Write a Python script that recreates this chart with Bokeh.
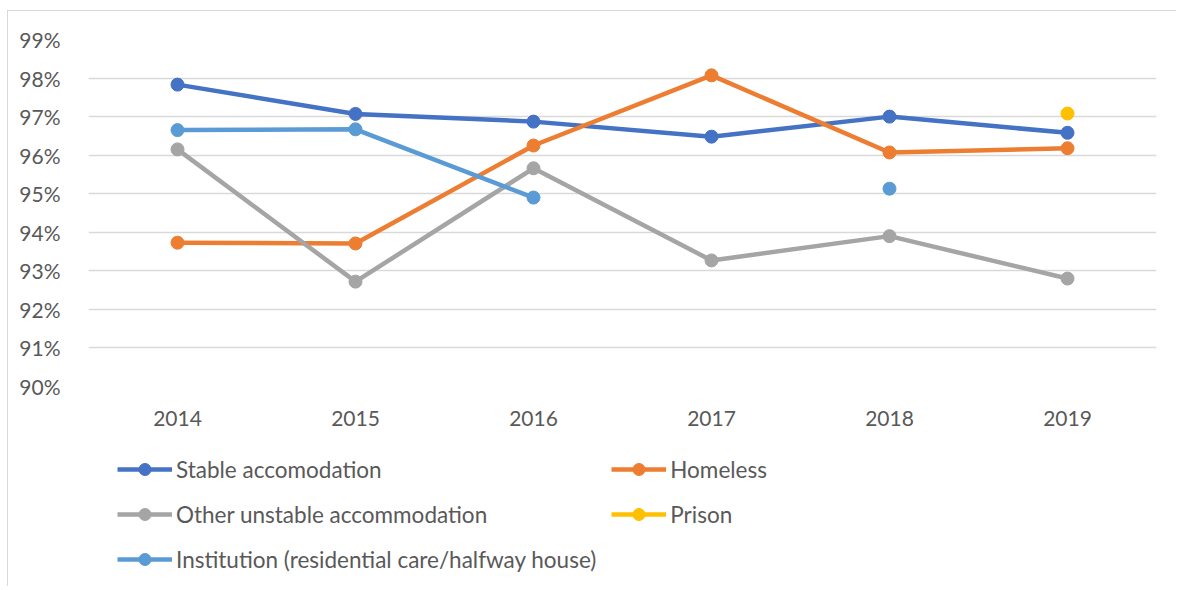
import math
from bokeh.plotting import figure
from bokeh.layouts import column
from bokeh.models import FactorRange, Range1d, Legend, LegendItem, PrintfTickFormatter, FixedTicker
from bokeh.embed import file_html
from bokeh.resources import INLINE

nan = float("nan")

years = ["2014", "2015", "2016", "2017", "2018", "2019"]
stable = [97.83, 97.07, 96.87, 96.48, 97.00, 96.58]
homeless = [93.73, 93.71, 96.25, 98.07, 96.07, 96.18]
other_unstable = [96.15, 92.72, 95.66, 93.27, 93.90, 92.80]
prison = [nan, nan, nan, nan, nan, 97.08]
institution = [96.65, 96.67, 94.90, nan, 95.13, nan]
y_ticks = [90, 91, 92, 93, 94, 95, 96, 97, 98, 99]

series = {
    "Stable accomodation": (stable, "#4472C4"),
    "Homeless": (homeless, "#ED7D31"),
    "Other unstable accommodation": (other_unstable, "#A5A5A5"),
    "Prison": (prison, "#FFC000"),
    "Institution (residential care/halfway house)": (institution, "#5B9BD5"),
}
# legend fills column by column
legend_order = ["Stable accomodation", "Other unstable accommodation",
                "Institution (residential care/halfway house)", "Homeless", "Prison"]

FONT = "Lato"
FS = "21px"
LFS = "22.5px"
TXT = "#595959"

# ---- main chart ----
p = figure(frame_width=1068, frame_height=347, x_range=FactorRange(*years), y_range=Range1d(90, 99),
           output_backend="svg", toolbar_location=None,
           min_border_left=80, min_border_right=20, min_border_top=28, min_border_bottom=60)
p.outline_line_color = None
p.background_fill_color = "white"
p.border_fill_color = "white"

p.xgrid.grid_line_color = None
p.ygrid.grid_line_color = "#D9D9D9"
p.ygrid.grid_line_width = 1.5
p.yaxis.ticker = FixedTicker(ticks=y_ticks)
p.yaxis.formatter = PrintfTickFormatter(format="%d%%")

for ax in (p.xaxis[0], p.yaxis[0]):
    ax.axis_line_color = None
    ax.major_tick_line_color = None
    ax.minor_tick_line_color = None
    ax.major_label_text_font = FONT
    ax.major_label_text_font_size = FS
    ax.major_label_text_color = TXT
p.yaxis.major_label_standoff = 22
p.xaxis.major_label_standoff = 18

for name, (vals, color) in series.items():
    p.line(years, vals, line_color=color, line_width=4.5)
    p.scatter(years, vals, size=13, fill_color=color, line_color=color)

# ---- legend strip (same series, drawn outside its view so only the legend shows) ----
lp = figure(width=1168, height=140, x_range=FactorRange(*years), y_range=Range1d(0, 1),
            output_backend="svg", toolbar_location=None,
            x_axis_location=None, y_axis_location=None, min_border=0)
lp.outline_line_color = None
lp.xgrid.grid_line_color = None
lp.ygrid.grid_line_color = None
lp.border_fill_color = "white"

items = {}
for name, (vals, color) in series.items():
    l = lp.line(years, vals, line_color=color, line_width=4.5)
    s = lp.scatter(years, vals, size=13, fill_color=color, line_color=color)
    items[name] = LegendItem(label=name, renderers=[l, s])

leg = Legend(items=[items[n] for n in legend_order], ncols=2, location=(29, 12),
             glyph_width=55, glyph_height=30, label_height=20, spacing=15, padding=0, margin=0,
             border_line_color=None, background_fill_alpha=0, label_standoff=4,
             label_text_font=FONT, label_text_font_size=LFS, label_text_color=TXT)
lp.add_layout(leg)

layout = column(p, lp, spacing=0)
layout.margin = (10, 0, 0, 7)
layout.styles = {"border-left": "1px solid #D9D9D9", "border-top": "1px solid #D9D9D9"}

open("out.html", "w").write(file_html(layout, INLINE))
